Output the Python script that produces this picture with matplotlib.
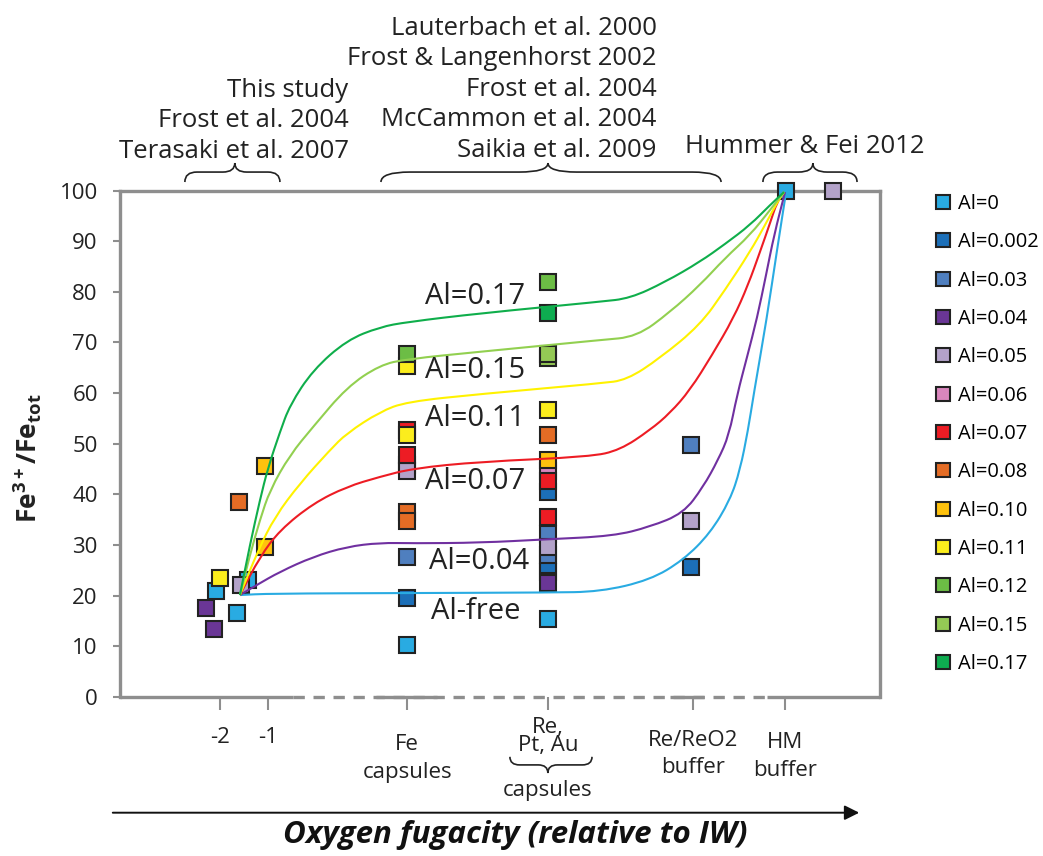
import matplotlib
matplotlib.use('Agg')
import matplotlib.pyplot as plt
from matplotlib.path import Path
from matplotlib.patches import PathPatch

plt.rcParams['font.family'] = ['Open Sans', 'DejaVu Sans']
plt.rcParams['mathtext.fontset'] = 'custom'
plt.rcParams['mathtext.rm'] = 'Open Sans:bold'
plt.rcParams['mathtext.bf'] = 'Open Sans:bold'

GRAY = '#8e8e8e'
EDGE = '#222222'

# measured points, grouped by Al content (x = position on the fO2 axis)
al_labels = ['Al=0', 'Al=0.002', 'Al=0.03', 'Al=0.04', 'Al=0.05', 'Al=0.06', 'Al=0.07',
             'Al=0.08', 'Al=0.10', 'Al=0.11', 'Al=0.12', 'Al=0.15', 'Al=0.17']
al_colors = ['#29abe2', '#1c6fb8', '#4f7fbf', '#6a3696', '#b3a2c9', '#da86bd', '#ed1c24',
             '#e46c25', '#ffc20e', '#fbed1d', '#6cbd45', '#94c955', '#0eac50']
al_x = [
    [-2.08, -1.41, -1.64, 1.9, 4.83, 4.83, 9.79],
    [1.9, 4.83, 4.83, 7.81],
    [1.9, 4.83, 4.83, 7.81],
    [-2.3, -2.125, 4.83],
    [-1.56, 1.9, 1.9, 4.83, 7.81, 10.76],
    [4.83],
    [1.9, 1.9, 4.83, 4.83],
    [-1.6, 1.9, 1.9, 4.83],
    [-1.06, -1.06, 4.83],
    [-2.0, 1.9, 1.9, 4.83],
    [1.9, 4.83],
    [4.83, 4.83],
    [4.83],
]
al_y = [
    [21.0, 23.2, 16.6, 10.3, 24.6, 15.5, 100],
    [19.5, 40.5, 26.1, 25.6],
    [27.6, 32.2, 28.0, 49.8],
    [17.6, 13.4, 22.5],
    [22.1, 45.8, 44.6, 29.6, 34.8, 100],
    [44.6],
    [52.8, 47.8, 42.7, 35.6],
    [38.6, 36.6, 34.7, 51.7],
    [45.7, 29.7, 46.8],
    [23.6, 65.3, 51.7, 56.7],
    [67.8, 81.9],
    [66.9, 67.7],
    [75.9],
]

# hand-drawn trend curves
curve_colors = ['#29abe2', '#7030a0', '#ed1c24', '#fff200', '#92d050', '#0fae4b']
curve_x = [
    [-1.583, -0.958, 1.896, 4.833, 5.917, 6.958, 7.652, 8.208, 8.625, 8.833, 9.0, 9.115,
     9.39, 9.598, 9.792],
    [-1.583, -1.235, -0.75, -0.056, 0.64, 1.333, 2.027, 3.417, 4.806, 6.194, 6.958, 7.652,
     8.063, 8.375, 8.604, 8.771, 8.979, 9.188, 9.375, 9.542, 9.771],
    [-1.583, -1.167, -0.75, -0.056, 0.64, 1.333, 2.027, 3.417, 5.708, 6.333, 6.958, 7.375,
     7.792, 8.25, 8.694, 9.0, 9.25, 9.458, 9.604, 9.75],
    [-1.583, -1.202, -0.854, -0.333, 0.292, 0.64, 1.333, 1.89, 3.417, 5.917, 6.473, 7.167,
     8.0, 8.521, 9.042, 9.354, 9.598, 9.75],
    [-1.583, -1.375, -1.167, -0.958, -0.542, -0.063, 0.646, 1.333, 1.896, 3.417, 5.917,
     6.681, 7.375, 8.0, 8.521, 9.042, 9.458, 9.75],
    [-1.583, -1.375, -1.167, -1.0, -0.75, -0.542, -0.063, 0.646, 1.333, 1.896, 3.417, 5.917,
     6.542, 7.271, 8.0, 8.521, 9.042, 9.458, 9.75],
]
curve_y = [
    [20.14, 20.43, 20.53, 20.63, 20.79, 23.1, 27.05, 32.32, 38.89, 44.82, 52.71, 59.63,
     74.77, 87.92, 99.7],
    [20.14, 22.11, 24.74, 27.7, 29.67, 30.46, 30.35, 30.46, 31.14, 31.79, 33.62, 36.27,
     41.46, 46.79, 51.73, 59.62, 67.13, 74.83, 83.32, 91.21, 99.7],
    [20.14, 27.7, 32.97, 38.24, 41.52, 43.49, 45.15, 46.46, 47.44, 48.77, 52.71, 56.07,
     60.61, 67.52, 74.77, 81.34, 87.92, 93.58, 97.73, 99.7],
    [20.14, 29.02, 35.6, 42.19, 48.77, 52.06, 56.33, 58.3, 59.82, 61.93, 62.59, 66.93,
     73.44, 80.36, 87.92, 93.19, 97.53, 99.7],
    [20.14, 28.04, 34.95, 40.87, 47.78, 53.31, 61.2, 65.55, 66.73, 68.17, 70.48, 71.13,
     76.01, 81.34, 86.67, 91.21, 96.15, 99.7],
    [20.14, 30.01, 38.89, 45.21, 52.32, 57.65, 64.56, 70.48, 73.05, 74.04, 75.76, 78.05,
     78.72, 81.93, 85.94, 89.44, 93.19, 97.14, 99.7],
]
curve_names = ['Al-free', 'Al=0.04', 'Al=0.07', 'Al=0.11', 'Al=0.15', 'Al=0.17']
curve_name_x = [2.4, 2.35, 2.27, 2.27, 2.27, 2.27]
curve_name_y = [16.8, 26.7, 42.6, 55.0, 64.5, 79.0]

tick_pos = [-2, -1, 1.9, 4.83, 7.85, 9.77]
tick_text = ['-2', '-1', 'Fe\ncapsules', 'Re,\nPt, Au', 'Re/ReO2\nbuffer', 'HM\nbuffer']

refs_left = ['This study', 'Frost et al. 2004', 'Terasaki et al. 2007']
refs_mid = ['Lauterbach et al. 2000', 'Frost & Langenhorst 2002', 'Frost et al. 2004',
            'McCammon et al. 2004', 'Saikia et al. 2009']
refs_right = ['Hummer & Fei 2012']


def brace(ax, x0, x1, xm, y0, y1, y2, r):
    verts = [(x0, y0), (x0, y1), (x0 + r, y1), (xm - r, y1), (xm, y1), (xm, y2),
             (xm, y1), (xm + r, y1), (x1 - r, y1), (x1, y1), (x1, y0)]
    codes = [Path.MOVETO, Path.CURVE3, Path.CURVE3, Path.LINETO, Path.CURVE3, Path.CURVE3,
             Path.CURVE3, Path.CURVE3, Path.LINETO, Path.CURVE3, Path.CURVE3]
    ax.add_patch(PathPatch(Path(verts, codes), fc='none', ec='#222222', lw=1.2,
                           transform=ax.get_xaxis_transform(), clip_on=False))


def smooth_curve(ax, xs, ys, color):
    # quadratic b-spline style path through the read-off points
    pts = list(zip(xs, ys))
    verts = [pts[0]]
    codes = [Path.MOVETO]
    mids = [((a[0] + b[0]) / 2, (a[1] + b[1]) / 2) for a, b in zip(pts[:-1], pts[1:])]
    verts.append(mids[0])
    codes.append(Path.LINETO)
    for p, m in zip(pts[1:-1], mids[1:]):
        verts += [p, m]
        codes += [Path.CURVE3, Path.CURVE3]
    verts.append(pts[-1])
    codes.append(Path.LINETO)
    ax.add_patch(PathPatch(Path(verts, codes), fc='none', ec=color, lw=1.5, zorder=4))


fig = plt.figure(figsize=(10.43, 8.56), dpi=100)
ax = fig.add_axes([0.1151, 0.1857, 0.7287, 0.5917])

for lab, col, xs, ys in zip(al_labels, al_colors, al_x, al_y):
    ax.plot(xs, ys, ls='none', marker='s', ms=11.5, mfc=col, mec=EDGE, mew=1.5,
            label=lab, clip_on=False, zorder=3)

for col, xs, ys in zip(curve_colors, curve_x, curve_y):
    smooth_curve(ax, xs, ys, col)

for name, tx, ty in zip(curve_names, curve_name_x, curve_name_y):
    ax.text(tx, ty, name, fontsize=21, color='#222222', ha='left', va='center', zorder=5)

ax.set_xlim(-4.08, 11.75)
ax.set_ylim(0, 100)
ax.set_yticks(range(0, 101, 10))
ax.tick_params(axis='y', labelsize=16, color=GRAY, length=5, width=1.5, pad=11,
               labelcolor='#222222')
ax.set_xticks(tick_pos)
ax.tick_params(axis='x', color=GRAY, length=9, width=1.5, labelbottom=False)
for side in ['left', 'top', 'right']:
    ax.spines[side].set_color(GRAY)
    ax.spines[side].set_linewidth(2.4)
ax.spines['bottom'].set_visible(False)

# broken bottom axis
xl = ax.get_xlim()
ax.plot([-0.48, 9.4], [0, 0], color=GRAY, lw=2.4, dashes=(3.4, 2.6), clip_on=False,
        zorder=2)
for a, b in [(xl[0], -0.48), (1.25, 2.52), (7.375, 8.08), (9.4, xl[1])]:
    ax.plot([a, b], [0, 0], color=GRAY, lw=2.4, solid_capstyle='butt', clip_on=False,
            zorder=2)

# category labels under the axis
xt = ax.get_xaxis_transform()
label_y = [-0.079, -0.079, -0.122, -0.078, -0.1125, -0.118]
label_ls = [1.0, 1.0, 1.45, 0.8, 1.4, 1.45]
for p, t, yy, ls in zip(tick_pos, tick_text, label_y, label_ls):
    ax.text(p, yy, t, transform=xt, ha='center', va='center', fontsize=16,
            linespacing=ls, color='#222222')
brace(ax, 4.04, 5.75, 4.83, -0.118, -0.134, -0.150, 0.2)
ax.text(4.83, -0.184, 'capsules', transform=xt, ha='center', va='center', fontsize=16,
        color='#222222')

# reference lists above the plot
for i, t in enumerate(refs_mid):
    ax.text(7.10, 1.320 - i * 0.0600, t, transform=xt, ha='right', va='center',
            fontsize=18.5, color='#222222')
for i, t in enumerate(refs_left):
    ax.text(0.68, 1.198 - i * 0.0600, t, transform=xt, ha='right', va='center',
            fontsize=18.5, color='#222222')
ax.text(10.19, 1.0865, refs_right[0], transform=xt, ha='center', va='center',
        fontsize=18.5, color='#222222')
brace(ax, -2.73, -0.75, -1.69, 1.0168, 1.0365, 1.0543, 0.25)
brace(ax, 1.354, 8.438, 4.833, 1.0168, 1.0365, 1.0543, 0.6)
brace(ax, 9.31, 11.27, 10.35, 1.0168, 1.0365, 1.0543, 0.3)

fig.text(0.027, 0.465, r'Fe$^{\mathbf{3+}}$/Fe$_{\mathbf{tot}}$', rotation=90,
         fontsize=19, fontweight='bold', ha='center', va='center', color='#222222')
fig.text(0.494, 0.025, 'Oxygen fugacity (relative to IW)', fontsize=22.5,
         fontweight='bold', style='italic', ha='center', va='center', color='#111111')
ax.annotate('', xy=(862 / 1043, 1 - 812.7 / 856), xytext=(110 / 1043, 1 - 812.7 / 856),
            xycoords='figure fraction', textcoords='figure fraction',
            arrowprops=dict(arrowstyle='-|>', color='#111111', lw=1.4,
                            mutation_scale=22))

leg = fig.legend(loc='upper left', bbox_to_anchor=(933 / 1043, 1 - 194 / 856),
                 frameon=False, fontsize=14.5, handlelength=1.0, handletextpad=0.25,
                 labelspacing=0.91, borderpad=0, borderaxespad=0, markerscale=0.85)

fig.savefig('out.png', dpi=100)
